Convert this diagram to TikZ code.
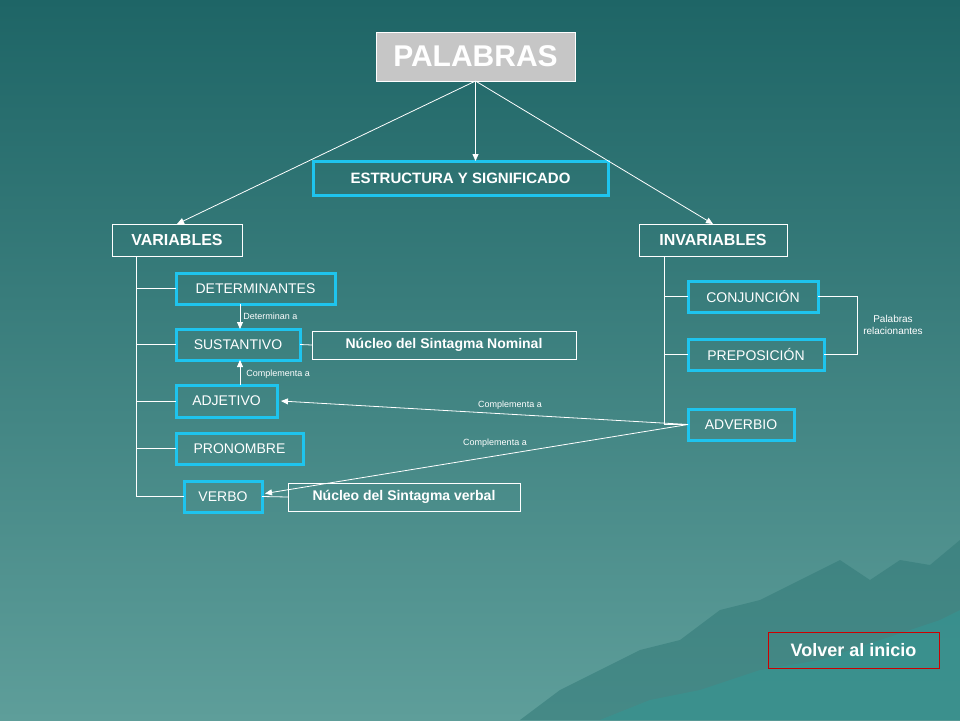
\documentclass[tikz,border=0pt]{standalone}
\usepackage{fontspec}
\setmainfont{Liberation Sans}
\usetikzlibrary{arrows.meta}
\definecolor{cy}{HTML}{1EC4EE}
\definecolor{bgtop}{HTML}{1E6566}
\definecolor{bgbot}{HTML}{5E9E9A}
\begin{document}
\begin{tikzpicture}[x=1pt,y=-1pt,
  every node/.style={outer sep=0pt},
  cbox/.style={draw=cy,line width=3pt,text=white,font=\fontsize{14}{16}\selectfont,anchor=north west,inner sep=0pt},
  wbox/.style={draw=white,line width=0.8pt,text=white,anchor=north west,inner sep=0pt},
  ln/.style={draw=white,line width=0.8pt},
  arr/.style={ln,-{Triangle[width=6pt,length=7pt]}},
  lab/.style={text=white,font=\fontsize{10}{12}\selectfont}]
\shade[top color=bgtop,bottom color=bgbot] (0,0) rectangle (960,720);
\useasboundingbox (0,0) rectangle (960,720);
% mountains
\fill[color=bgbot!80!cyan!70!black,opacity=0.6] (520,720) -- (560,690) -- (600,670) -- (640,650) -- (680,640) -- (720,610) -- (760,600) -- (800,580) -- (840,560) -- (870,580) -- (900,560) -- (930,565) -- (960,540) -- (960,720) -- cycle;
\fill[color=bgbot!70!cyan!80!black,opacity=0.6] (600,720) -- (650,700) -- (700,690) -- (760,670) -- (820,660) -- (880,640) -- (940,620) -- (960,610) -- (960,720) -- cycle;
% boxes
\node[wbox,fill=gray!45,minimum width=199pt,minimum height=49pt,font=\bfseries\fontsize{30}{34}\selectfont] (pal) at (376,32) {PALABRAS};
\node[cbox,font=\bfseries\fontsize{15}{17}\selectfont,minimum width=295pt,minimum height=34pt] (est) at (313,161) {ESTRUCTURA Y SIGNIFICADO};
\node[wbox,font=\bfseries\fontsize{16}{18}\selectfont,minimum width=130pt,minimum height=32pt] (var) at (112,224) {VARIABLES};
\node[wbox,font=\bfseries\fontsize{16}{18}\selectfont,minimum width=148pt,minimum height=32pt] (inv) at (639,224) {INVARIABLES};
\node[cbox,minimum width=159pt,minimum height=31pt] (det) at (176,273) {DETERMINANTES};
\node[cbox,minimum width=124pt,minimum height=31pt] (sus) at (176,329) {SUSTANTIVO};
\node[cbox,minimum width=101pt,minimum height=32pt] (adj) at (176,385) {ADJETIVO};
\node[cbox,minimum width=127pt,minimum height=31pt] (pro) at (176,433) {PRONOMBRE};
\node[cbox,minimum width=78pt,minimum height=31pt] (ver) at (184,481) {VERBO};
\node[wbox,font=\bfseries\fontsize{14}{16}\selectfont,minimum width=264pt,minimum height=28pt] (nsn) at (312,331) {Núcleo del Sintagma Nominal};
\node[wbox,font=\bfseries\fontsize{14}{16}\selectfont,minimum width=232pt,minimum height=28pt] (nsv) at (288,483) {Núcleo del Sintagma verbal};
\node[cbox,minimum width=130pt,minimum height=31pt] (con) at (688,281) {CONJUNCIÓN};
\node[cbox,minimum width=136pt,minimum height=31pt] (pre) at (688,339) {PREPOSICIÓN};
\node[cbox,minimum width=106pt,minimum height=31pt] (adv) at (688,409) {ADVERBIO};
\node[lab,align=center] (rel) at (893,325) {Palabras\\relacionantes};
\node[draw=red!80!black,line width=1pt,text=white,font=\bfseries\fontsize{18}{20}\selectfont,minimum width=171pt,minimum height=36pt,anchor=north west,inner sep=0pt] (vol) at (768,632) {Volver al inicio};
% top arrows
\draw[arr] (pal.south) -- (var.north);
\draw[arr] (pal.south) -- (pal.south |- est.north);
\draw[arr] (pal.south) -- (inv.north);
% trunks
\coordinate (vt) at (136,256);
\draw[ln] (vt) |- (ver.west);
\draw[ln] (vt |- det.west) -- (det.west);
\draw[ln] (vt |- sus.west) -- (sus.west);
\draw[ln] (vt |- adj.west) -- (adj.west);
\draw[ln] (vt |- pro.west) -- (pro.west);
\draw[ln] (sus.east) -- (nsn.west);
\draw[ln] (ver.east) -- (nsv.west);
\coordinate (it) at (664,256);
\draw[ln] (it) |- (adv.west);
\draw[ln] (it |- con.west) -- (con.west);
\draw[ln] (it |- pre.west) -- (pre.west);
\coordinate (bk) at (857,289);
\draw[ln] (con.east) -- (bk |- con.east) -- (bk |- pre.east) -- (pre.east);
% inner arrows
\draw[arr] (det.south -| 240,0) -- (sus.north -| 240,0) node[lab,right,pos=0.5,font=\fontsize{9}{11}\selectfont] {Determinan a};
\draw[arr] (adj.north -| 240,0) -- (sus.south -| 240,0) node[lab,right,pos=0.45,font=\fontsize{9}{11}\selectfont,xshift=3pt] {Complementa a};
\draw[arr] (adv.west) -- ([xshift=4pt]adj.east);
\node[lab,font=\fontsize{9}{11}\selectfont] at (510,405) {Complementa a};
\draw[arr] (adv.west) -- ([xshift=3pt,yshift=3pt]ver.east);
\node[lab,font=\fontsize{9}{11}\selectfont] at (495,443) {Complementa a};
\end{tikzpicture}
\end{document}
